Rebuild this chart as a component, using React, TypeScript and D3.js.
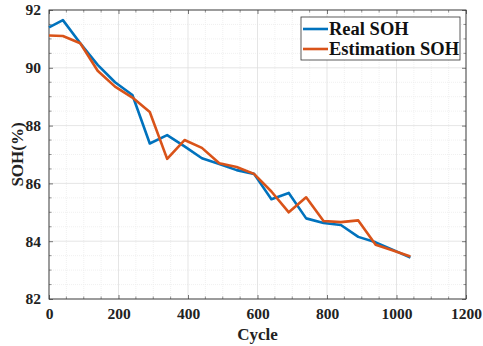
import { useEffect, useRef } from "react";
import * as d3 from "d3";

// Cycle numbers shared by both series
const cycles = [0, 40, 90, 140, 190, 240, 290, 340, 390, 440, 490, 540, 590, 640, 690, 740, 790, 840, 890, 940, 990, 1040];

// Measured state of health (%)
const realSOH = [91.4, 91.65, 90.85, 90.1, 89.5, 89.06, 87.38, 87.67, 87.28, 86.87, 86.67, 86.46, 86.33, 85.45, 85.67, 84.79, 84.63, 84.56, 84.15, 83.96, 83.7, 83.43];

// Estimated state of health (%)
const estSOH = [91.12, 91.1, 90.85, 89.9, 89.35, 88.97, 88.47, 86.85, 87.5, 87.23, 86.7, 86.57, 86.33, 85.72, 85.0, 85.52, 84.7, 84.66, 84.72, 83.88, 83.68, 83.47];

const xTicks = [0, 200, 400, 600, 800, 1000, 1200];
const yTicks = [82, 84, 86, 88, 90, 92];

const seriesNames = ["Real SOH", "Estimation SOH"];
const seriesColors = ["#0072BD", "#D95319"];

function SOHChart({ width = 483, height = 346 }) {
    const svgRef = useRef<SVGSVGElement | null>(null);

    useEffect(() => {
        const margin = { top: 10, right: 17, bottom: 47, left: 49 };
        const innerWidth = width - margin.left - margin.right;
        const innerHeight = height - margin.top - margin.bottom;
        const font = "'Liberation Serif', 'Times New Roman', serif";

        const svg = d3.select(svgRef.current);
        svg.selectAll("*").remove();

        svg.append("rect").attr("width", width).attr("height", height).attr("fill", "white");

        const g = svg.append("g").attr("transform", `translate(${margin.left}, ${margin.top})`);

        const xScale = d3.scaleLinear().domain([0, 1200]).range([0, innerWidth]);
        const yScale = d3.scaleLinear().domain([82, 92]).range([innerHeight, 0]);

        // Minor grid
        const xMinor = d3.range(0, 1201, 50).filter(v => v % 200 !== 0);
        const yMinor = d3.range(82, 92.01, 0.5).filter(v => Math.abs(v % 2) > 0.01);

        g.append("g")
            .selectAll("line")
            .data(xMinor)
            .join("line")
            .attr("x1", d => xScale(d))
            .attr("x2", d => xScale(d))
            .attr("y1", 0)
            .attr("y2", innerHeight)
            .attr("stroke", "#ececec")
            .attr("stroke-width", 0.8)
            .attr("stroke-dasharray", "1,1");

        g.append("g")
            .selectAll("line")
            .data(yMinor)
            .join("line")
            .attr("x1", 0)
            .attr("x2", innerWidth)
            .attr("y1", d => yScale(d))
            .attr("y2", d => yScale(d))
            .attr("stroke", "#ececec")
            .attr("stroke-width", 0.8)
            .attr("stroke-dasharray", "1,1");

        // Major grid
        g.append("g")
            .selectAll("line")
            .data(xTicks)
            .join("line")
            .attr("x1", d => xScale(d))
            .attr("x2", d => xScale(d))
            .attr("y1", 0)
            .attr("y2", innerHeight)
            .attr("stroke", "#dedede")
            .attr("stroke-width", 0.8);

        g.append("g")
            .selectAll("line")
            .data(yTicks)
            .join("line")
            .attr("x1", 0)
            .attr("x2", innerWidth)
            .attr("y1", d => yScale(d))
            .attr("y2", d => yScale(d))
            .attr("stroke", "#dedede")
            .attr("stroke-width", 0.8);

        // Axes with inward ticks (box on)
        const tickLen = 4;
        const styleAxis = (sel: any) => {
            sel.select(".domain").remove();
            sel.selectAll(".tick line").attr("stroke", "#555").attr("stroke-width", 0.8);
            sel.selectAll(".tick text")
                .attr("fill", "#222")
                .style("font-family", font)
                .style("font-size", "15.5px")
                .style("font-weight", "bold");
        };

        g.append("g")
            .attr("transform", `translate(0, ${innerHeight})`)
            .call(d3.axisBottom(xScale).tickValues(xTicks).tickFormat(d3.format("d")).tickSizeInner(-tickLen).tickSizeOuter(0).tickPadding(9))
            .call(styleAxis);

        g.append("g")
            .call(d3.axisTop(xScale).tickValues(xTicks).tickSizeInner(-tickLen).tickSizeOuter(0).tickFormat(() => ""))
            .call(styleAxis);

        g.append("g")
            .call(d3.axisLeft(yScale).tickValues(yTicks).tickSizeInner(-tickLen).tickSizeOuter(0).tickPadding(8))
            .call(styleAxis);

        g.append("g")
            .attr("transform", `translate(${innerWidth}, 0)`)
            .call(d3.axisRight(yScale).tickValues(yTicks).tickSizeInner(-tickLen).tickSizeOuter(0).tickFormat(() => ""))
            .call(styleAxis);

        // Minor ticks
        const minorLen = 2.5;
        const minorG = g.append("g").attr("stroke", "#666").attr("stroke-width", 0.7);
        xMinor.forEach(v => {
            minorG.append("line").attr("x1", xScale(v)).attr("x2", xScale(v)).attr("y1", innerHeight).attr("y2", innerHeight - minorLen);
            minorG.append("line").attr("x1", xScale(v)).attr("x2", xScale(v)).attr("y1", 0).attr("y2", minorLen);
        });
        yMinor.forEach(v => {
            minorG.append("line").attr("x1", 0).attr("x2", minorLen).attr("y1", yScale(v)).attr("y2", yScale(v));
            minorG.append("line").attr("x1", innerWidth).attr("x2", innerWidth - minorLen).attr("y1", yScale(v)).attr("y2", yScale(v));
        });

        // Box
        g.append("rect")
            .attr("width", innerWidth)
            .attr("height", innerHeight)
            .attr("fill", "none")
            .attr("stroke", "#333")
            .attr("stroke-width", 0.9);

        // Lines
        const line = d3.line<number>()
            .x((d, i) => xScale(cycles[i]))
            .y(d => yScale(d));

        [realSOH, estSOH].forEach((series, i) => {
            g.append("path")
                .datum(series)
                .attr("d", line)
                .attr("fill", "none")
                .attr("stroke", seriesColors[i])
                .attr("stroke-width", 2.6)
                .attr("stroke-linejoin", "round");
        });

        // Axis labels
        svg.append("text")
            .attr("x", margin.left + innerWidth / 2)
            .attr("y", 340)
            .attr("text-anchor", "middle")
            .style("font-family", font)
            .style("font-size", "17px")
            .style("font-weight", "bold")
            .attr("fill", "#222")
            .text("Cycle");

        svg.append("text")
            .attr("transform", `translate(23, ${margin.top + innerHeight / 2}) rotate(-90)`)
            .attr("text-anchor", "middle")
            .style("font-family", font)
            .style("font-size", "17px")
            .style("font-weight", "bold")
            .attr("fill", "#222")
            .text("SOH(%)");

        // Legend
        const legend = svg.append("g").attr("transform", "translate(301, 17)");
        legend.append("rect")
            .attr("width", 159)
            .attr("height", 43)
            .attr("fill", "white")
            .attr("stroke", "#333")
            .attr("stroke-width", 0.8);

        const items = legend.selectAll(".legend-item")
            .data(seriesNames)
            .join("g")
            .attr("class", "legend-item")
            .attr("transform", (d, i) => `translate(0, ${12 + i * 20})`);

        items.append("line")
            .attr("x1", 2)
            .attr("x2", 27)
            .attr("y1", 0)
            .attr("y2", 0)
            .attr("stroke", (d, i) => seriesColors[i])
            .attr("stroke-width", 2.6);

        items.append("text")
            .attr("x", 28)
            .attr("y", 0)
            .attr("dy", "0.35em")
            .style("font-family", font)
            .style("font-size", "18.5px")
            .style("font-weight", "bold")
            .attr("fill", "#111")
            .text(d => d);
    }, [width, height]);

    return <svg ref={svgRef} width={width} height={height} style={{ position: "absolute", left: 0, top: 0 }} />;
}

export default function App() {
    return <SOHChart />;
}
